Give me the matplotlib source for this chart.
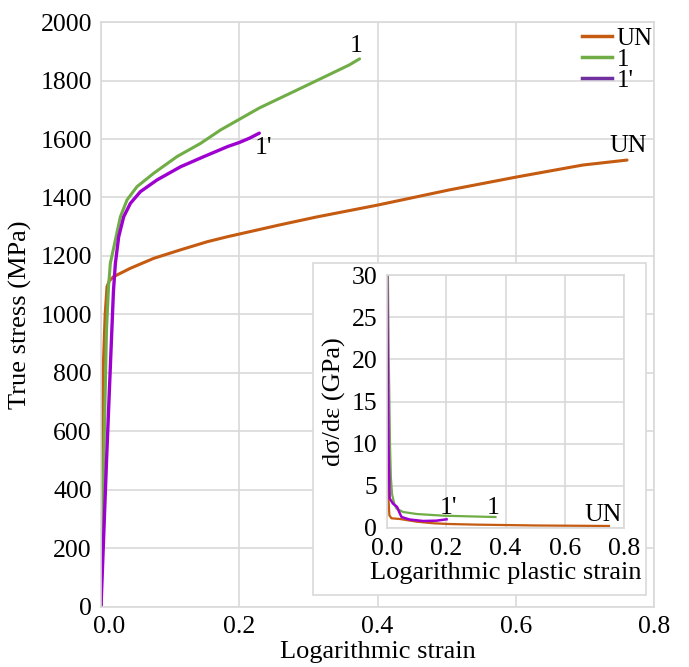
import matplotlib
matplotlib.use("Agg")
import matplotlib.pyplot as plt
import matplotlib.transforms as mtransforms
from matplotlib.lines import Line2D
from matplotlib.patches import Rectangle

plt.rcParams['font.family'] = ['Liberation Serif', 'DejaVu Serif']

# true stress - strain curves
un_x = [0, 0.001, 0.003, 0.006, 0.0087, 0.012, 0.018, 0.0425, 0.0763, 0.115, 0.154, 0.183, 0.2,
        0.258, 0.311, 0.4, 0.504, 0.601, 0.697, 0.761]
un_y = [0, 500, 800, 1000, 1095, 1115, 1129, 1158, 1192, 1221, 1249, 1266, 1275,
        1306, 1333, 1374, 1426, 1470, 1511, 1528]

g_x = [0, 0.004, 0.008, 0.011, 0.0135, 0.0208, 0.028, 0.0377, 0.052, 0.0763, 0.110, 0.144, 0.173,
       0.229, 0.30, 0.359, 0.374]
g_y = [0, 500, 950, 1100, 1175, 1255, 1334, 1392, 1437, 1483, 1540, 1585, 1631,
       1706, 1786, 1853, 1874]

p_x = [0, 0.008, 0.0145, 0.018, 0.0208, 0.0256, 0.0328, 0.0425, 0.057, 0.081, 0.115, 0.149, 0.183,
       0.2, 0.215, 0.229]
p_y = [0, 500, 879, 1080, 1175, 1266, 1334, 1380, 1420, 1460, 1505, 1540, 1574,
       1588, 1603, 1620]

# hardening rate vs plastic strain (inset)
un_ix = [0, 0.004, 0.008, 0.015, 0.043, 0.1, 0.156, 0.212, 0.3, 0.5, 0.749]
un_iy = [30, 4.0, 1.5, 1.15, 1.07, 0.75, 0.56, 0.47, 0.4, 0.3, 0.24]

g_ix = [0.003, 0.006, 0.010, 0.013, 0.017, 0.025, 0.032, 0.054, 0.1, 0.19, 0.366]
g_iy = [30, 20, 10, 6, 4.0, 2.8, 2.3, 1.9, 1.66, 1.46, 1.3]

p_ix = [0, 0.005, 0.009, 0.02, 0.034, 0.041, 0.049, 0.077, 0.122, 0.167, 0.201]
p_iy = [30, 10, 3.5, 2.9, 2.5, 1.9, 1.3, 1.0, 0.83, 0.87, 1.03]

labels = ['UN', '1', "1'"]
c_un = '#C55A11'
c_g = '#70AD47'
c_p = '#9E00D0'
c_p_leg = '#7030A0'
gridc = '#D9D9D9'

fig = plt.figure(figsize=(6.89, 6.67), dpi=100)
ax = fig.add_axes([0.1466, 0.0900, 0.8026, 0.877])

ax.plot(un_x, un_y, color=c_un, lw=2.2, solid_capstyle='round', solid_joinstyle='round')
ax.plot(g_x, g_y, color=c_g, lw=2.2, solid_capstyle='round', solid_joinstyle='round')
ax.plot(p_x, p_y, color=c_p, lw=2.4, solid_capstyle='round', solid_joinstyle='round')

ax.set_xlim(0, 0.8)
ax.set_ylim(0, 2000)
ax.set_xticks([0, 0.2, 0.4, 0.6, 0.8])
ax.set_xticklabels(['0.0', '0.2', '0.4', '0.6', '0.8'])
ax.set_yticks(range(0, 2001, 200))
ax.grid(True, color=gridc, lw=1.2)
ax.set_axisbelow(True)
for s in ax.spines.values():
    s.set_color(gridc)
    s.set_linewidth(1.2)
ax.tick_params(length=0, labelsize=18.5, pad=6.5)
ax.set_xlabel('Logarithmic strain', fontsize=19, labelpad=2)
ax.set_ylabel('True stress (MPa)', fontsize=19, labelpad=6)

offset = mtransforms.ScaledTranslation(6 / 72, 0, fig.dpi_scale_trans)
lbl = ax.get_xticklabels()[0]
lbl.set_transform(lbl.get_transform() + offset)

ax.text(0.3696, 1918, '1', fontsize=18.5, ha='center', va='center')
ax.text(0.235, 1569, "1'", fontsize=18.5, ha='center', va='center')
ax.text(0.762, 1576, 'UN', fontsize=18.5, ha='center', va='center')

handles = [Line2D([], [], color=c_un, lw=2.5),
           Line2D([], [], color=c_g, lw=2.5),
           Line2D([], [], color=c_p_leg, lw=2.5)]
ax.legend(handles, labels, loc='upper right', bbox_to_anchor=(1.0, 0.993),
          frameon=False, fontsize=18, borderaxespad=0, borderpad=0.05,
          labelspacing=-0.06, handlelength=1.2, handletextpad=0.2)

# inset box
fig.patches.append(Rectangle((0.4543, 0.1079), 0.4833, 0.4978, transform=fig.transFigure,
                             facecolor='white', edgecolor=gridc, lw=1.2, zorder=2))

ins = fig.add_axes([0.5617, 0.2084, 0.344, 0.3793])
ins.set_zorder(3)
ins.plot(un_ix, un_iy, color=c_un, lw=1.6, solid_joinstyle='round')
ins.plot(g_ix, g_iy, color=c_g, lw=1.6, solid_joinstyle='round')
ins.plot(p_ix, p_iy, color=c_p, lw=1.8, solid_joinstyle='round')
ins.set_xlim(0, 0.8)
ins.set_ylim(0, 30)
ins.set_xticks([0, 0.2, 0.4, 0.6, 0.8])
ins.set_xticklabels(['0.0', '0.2', '0.4', '0.6', '0.8'])
ins.set_yticks(range(0, 31, 5))
ins.grid(True, color=gridc, lw=1.2)
ins.set_axisbelow(True)
for s in ins.spines.values():
    s.set_color(gridc)
    s.set_linewidth(1.2)
ins.tick_params(length=0, labelsize=18.5, pad=7)
ins.set_xlabel('Logarithmic plastic strain', fontsize=19, labelpad=2)
ins.set_ylabel('dσ/dε (GPa)', fontsize=19, labelpad=4)
ins.text(0.207, 2.37, "1'", fontsize=18.5, ha='center', va='center')
ins.text(0.359, 2.37, '1', fontsize=18.5, ha='center', va='center')
ins.text(0.729, 1.54, 'UN', fontsize=18.5, ha='center', va='center')

fig.savefig('out.png', dpi=100)
